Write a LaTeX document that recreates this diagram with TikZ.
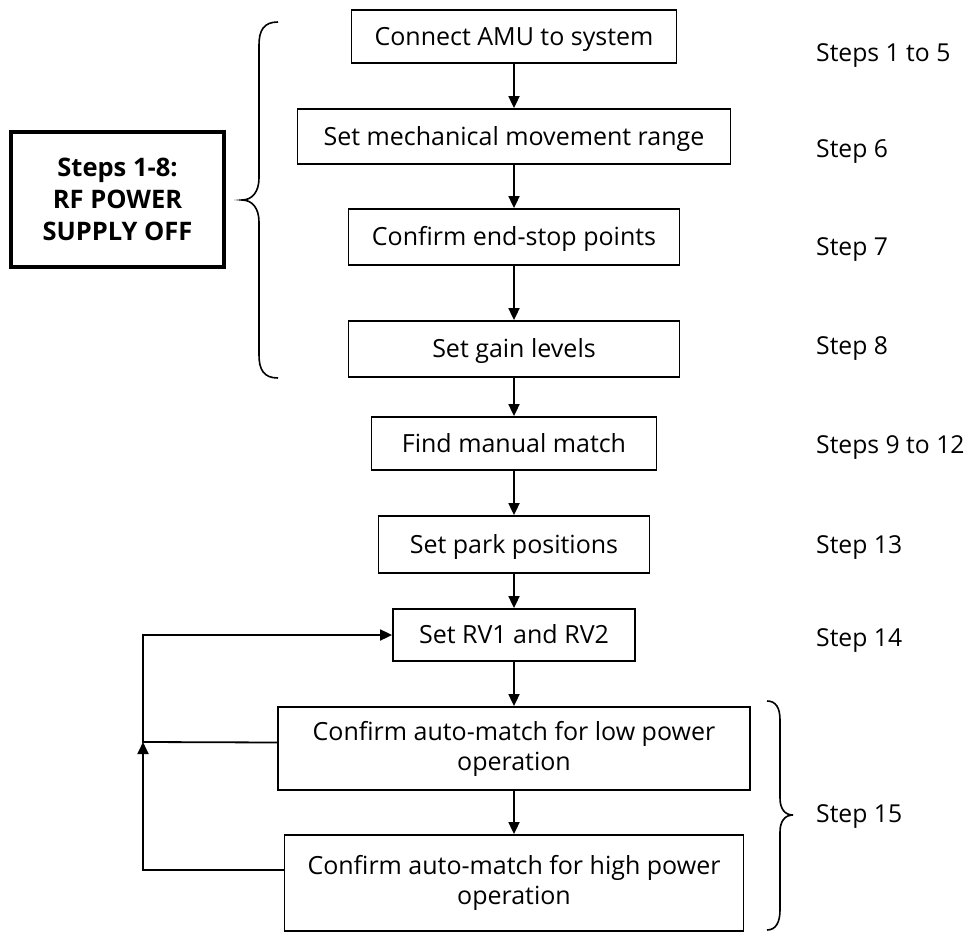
\documentclass[tikz,border=0pt]{standalone}
\usepackage{fontspec}
\setmainfont{Open Sans}
\usetikzlibrary{arrows.meta}
\begin{document}
\begin{tikzpicture}[x=1pt,y=-1pt,
  box/.style={draw, line width=1.8pt, inner sep=0pt, align=center, font=\fontsize{25}{30}\selectfont},
  onebox/.style={box, text height=17.8pt, text depth=0pt},
  arr/.style={line width=1.8pt, -{Triangle[width=11pt,length=12pt]}},
  lbl/.style={anchor=base west, inner sep=0pt, font=\fontsize{24.7}{30}\selectfont},
  brace/.style={line width=1.6pt}]
\useasboundingbox (0,0) rectangle (967,934);
\fill[white] (0,0) rectangle (967,934);

\node[onebox, minimum width=325pt, minimum height=53pt] (b1) at (514,36.5) {Connect AMU to system};
\node[onebox, minimum width=433pt, minimum height=55pt] (b2) at (514,136.5) {Set mechanical movement range};
\node[onebox, minimum width=331pt, minimum height=56pt] (b3) at (514,237) {Confirm end-stop points};
\node[onebox, minimum width=331pt, minimum height=56pt] (b4) at (514,349) {Set gain levels};
\node[onebox, minimum width=285pt, minimum height=53pt] (b5) at (514,443.5) {Find manual match};
\node[onebox, minimum width=271pt, minimum height=57pt] (b6) at (514,544.5) {Set park positions};
\node[onebox, minimum width=242pt, minimum height=52pt] (b7) at (514,635) {Set RV1 and RV2};
\node[box, minimum width=472pt, minimum height=83pt] (b8) at (514,748.5) {Confirm auto-match for low power\\operation};
\node[box, minimum width=459pt, minimum height=96pt] (b9) at (514,883) {Confirm auto-match for high power\\operation};

\node[draw, line width=3.5pt, minimum width=213pt, minimum height=135pt, inner sep=0pt, align=center,
      font=\fontsize{25.5}{32}\selectfont\bfseries] (note) at (117.5,199.5) {Steps 1-8:\\RF POWER\\SUPPLY OFF};

\draw[arr] (b1) -- (b2);
\draw[arr] (b2) -- (b3);
\draw[arr] (b3) -- (b4);
\draw[arr] (b4) -- (b5);
\draw[arr] (b5) -- (b6);
\draw[arr] (b6) -- (b7);
\draw[arr] (b7) -- (b8);
\draw[arr] (b8) -- (b9);

\coordinate (j) at (143,742);
\draw[arr] ([yshift=13pt]b9.west) -| (j);
\draw[arr] ([yshift=6pt]b8.west) -- (j) |- (b7.west);

\node[lbl] (s1) at (816,62) {Steps 1 to 5};
\node[lbl] (s6) at (816,157) {Step 6};
\node[lbl] (s7) at (816,255) {Step 7};
\node[lbl] (s8) at (816,354) {Step 8};
\node[lbl] (s9) at (816,453) {Steps 9 to 12};
\node[lbl] (s13) at (816,553) {Step 13};
\node[lbl] (s14) at (816,646) {Step 14};
\node[lbl] (s15) at (816,822) {Step 15};

\draw[brace] (278,22) .. controls (264,22) and (259,30) .. (259,45) -- (259,178)
  .. controls (259,192) and (252,200) .. (242,200)
  .. controls (252,200) and (259,208) .. (259,222) -- (259,355)
  .. controls (259,370) and (264,378) .. (278,378);

\draw[brace] (767,701) .. controls (776,701) and (780,708) .. (780,720) -- (780,798)
  .. controls (780,809) and (785,815) .. (793,815)
  .. controls (785,815) and (780,821) .. (780,832) -- (780,910)
  .. controls (780,922) and (776,930) .. (767,930);
\end{tikzpicture}
\end{document}
